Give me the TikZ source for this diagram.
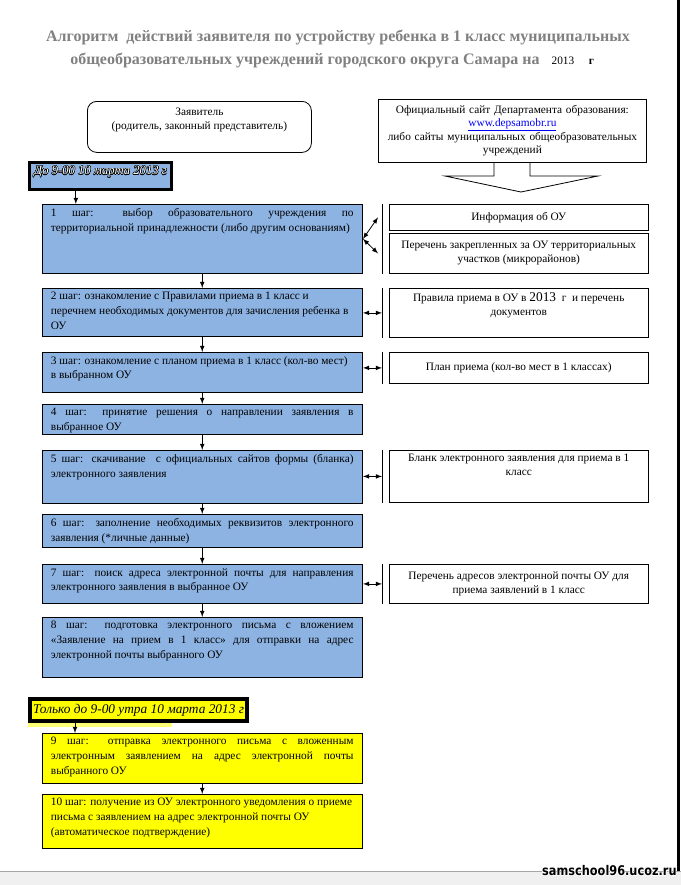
\documentclass[tikz,border=0pt]{standalone}
\usepackage{fontspec}
\setmainfont{Liberation Serif}
\newfontfamily\markfont[FakeStretch=0.85]{DejaVu Sans}
\usepackage[copies]{contour}
\contourlength{0.35pt}

\definecolor{stepblue}{RGB}{141,179,226}
\definecolor{stepyellow}{RGB}{255,255,0}
\definecolor{headgray}{RGB}{128,128,128}

\newcommand{\stepcell}[3][t]{\parbox[c][#2][#1]{227pt}{#3}}
\newcommand{\sidecell}[3][c]{\parbox[c][#2][#1]{186pt}{\centering #3}}
\newcommand{\fullline}[1]{\makebox[\linewidth][s]{#1}}

\tikzset{
    stepbox/.style={draw, fill=stepblue, anchor=north west, inner xsep=6.75pt, inner ysep=3pt, font=\fontsize{8.5}{11}\selectfont},
    lastbox/.style={stepbox, fill=stepyellow},
    sidebox/.style={draw, fill=white, anchor=north west, inner xsep=4pt, inner ysep=3pt, font=\fontsize{8.5}{10.5}\selectfont},
    datebox/.style={draw, line width=2.5pt, inner xsep=1pt, inner ysep=0pt, font=\fontsize{10}{12}\selectfont\itshape},
    flow/.style={->},
    link/.style={<->}
}

\begin{document}
\begin{tikzpicture}[x=0.75pt, y=-0.75pt, line width=0.6pt, >=latex]
                \useasboundingbox (0,0) rectangle (681,885);
                \node[font=\fontsize{12}{14}\selectfont\bfseries, text=headgray] (title1) at (338,37) {Алгоритм\ \ действий заявителя по устройству ребенка в 1 класс муниципальных};
                \node[anchor=west, inner xsep=0pt, font=\fontsize{12}{14}\selectfont\bfseries, text=headgray] (title2) at (70,60) {общеобразовательных учреждений городского округа Самара на\hspace{9pt}{\color{black}\fontsize{8.5}{10}\selectfont\mdseries 2013}\hspace{11pt}{\color{black}\fontsize{8.5}{10}\selectfont г}};
                \node[draw, rounded corners=7pt, anchor=north west, inner xsep=4pt, inner ysep=3pt, font=\fontsize{8.5}{10.5}\selectfont] (parent) at (87,101) {\parbox[c][32.25pt][t]{160pt}{\vspace*{2pt}\centering Заявитель\\ (родитель, законный представитель)}};
                \node[draw, anchor=north west, minimum height=47.25pt, text width=193pt, inner xsep=4pt, align=center, font=\fontsize{8.5}{9.5}\selectfont] (site) at (378,99) {Официальный сайт Департамента образования:\\ {\color{blue}\underline{www.depsamobr.ru}}\\ либо сайты муниципальных общеобразовательных\\ учреждений};
                \draw (494,162) -- (494,176) -- (445,176) -- (521,192) -- (598,176) -- (530,176) -- (530,162);
                \node[datebox, fill=stepblue, text=white, minimum width=106.5pt, minimum height=20.25pt, text height=6pt, text depth=8pt, font=\fontsize{9.5}{12}\selectfont\itshape] (due) at (100.5,176) {\contour{black}{До 9-00 10 марта 2013 г}};
                \node[stepbox] (s1) at (41.5,204) {\stepcell{45.75pt}{\fullline{1 шаг: выбор образовательного учреждения по}\\ \mbox{территориальной принадлежности (либо другим основаниям)}}};
                \node[stepbox] (s2) at (41.5,288) {\stepcell{30pt}{\mbox{2 шаг: ознакомление с Правилами приема в 1 класс и}\\ \mbox{перечнем необходимых документов для зачисления ребенка в}\\ ОУ}};
                \node[stepbox] (s3) at (41.5,352) {\stepcell{24pt}{\mbox{3 шаг: ознакомление с планом приема в 1 класс (кол-во мест)}\\ в выбранном ОУ}};
                \node[stepbox] (s4) at (41.5,404) {\stepcell{16.5pt}{\fullline{4 шаг: принятие решения о направлении заявления в}\\ выбранное ОУ}};
                \node[stepbox] (s5) at (41.5,450) {\stepcell{33.75pt}{\fullline{5 шаг: скачивание \ с официальных сайтов формы (бланка)}\\ электронного заявления}};
                \node[stepbox] (s6) at (41.5,514) {\stepcell{18.75pt}{\fullline{6 шаг: заполнение необходимых реквизитов электронного}\\ заявления (*личные данные)}};
                \node[stepbox] (s7) at (41.5,564) {\stepcell{23.25pt}{\fullline{7 шаг: поиск адреса электронной почты для направления}\\ электронного заявления в выбранное ОУ}};
                \node[stepbox] (s8) at (41.5,617) {\stepcell{39pt}{\fullline{8 шаг: подготовка электронного письма с вложением}\\ \fullline{«Заявление на прием в 1 класс» для отправки на адрес}\\ электронной почты выбранного ОУ}};
                \fill[stepyellow!55] (28,723) rectangle (172,727);
                \node[datebox, line width=3pt, fill=stepyellow, minimum width=162.75pt, minimum height=16.5pt] (late) at (138.5,710) {Только до 9-00 утра 10 марта 2013 г};
                \node[lastbox] (s9) at (41.5,733) {\stepcell{31.5pt}{\fullline{9 шаг: отправка электронного письма с вложенным}\\ \fullline{электронным заявлением на адрес электронной почты}\\ выбранного ОУ}};
                \node[lastbox] (s10) at (41.5,794) {\stepcell{34.5pt}{\mbox{10 шаг: получение из ОУ электронного уведомления о приеме}\\ \mbox{письма с заявлением на адрес электронной почты ОУ}\\ (автоматическое подтверждение)}};
                \node[sidebox] (info) at (389,204) {\sidecell{13.5pt}{Информация об ОУ}};
                \node[sidebox] (zone) at (389,233) {\sidecell{24pt}{Перечень закрепленных за ОУ территориальных\\ участков (микрорайонов)}};
                \node[sidebox] (rules) at (389,288) {\sidecell[t]{30.75pt}{Правила приема в ОУ в {\fontsize{10}{10}\selectfont 2013}\enspace г\enspace и перечень\\ документов}};
                \node[sidebox] (plan) at (389,352) {\sidecell{17.25pt}{План приема (кол-во мест в 1 классах)}};
                \node[sidebox] (blank) at (389,450) {\sidecell[t]{33pt}{Бланк электронного заявления для приема в 1\\ класс}};
                \node[sidebox] (mail) at (389,564) {\sidecell{23.25pt}{Перечень адресов электронной почты ОУ для\\ приема заявлений в 1 класс}};
                \foreach \a/\b in {info/zone, rules/rules, plan/plan, blank/blank, mail/mail}
                    {\draw ([xshift=-5.25pt]\a.north west) -- ([xshift=-5.25pt]\b.south west);}
                \foreach \a/\b in {s1/s2, s2/s3, s3/s4, s4/s5, s5/s6, s6/s7, s7/s8, s9/s10}
                    {\draw[flow] (\a) -- (\b);}
                \draw[flow] ([xshift=36pt]due.south west) -- ([xshift=36pt]due.south west |- s1.north);
                \draw[flow] ([xshift=35.25pt]late.south west) -- ([xshift=35.25pt]late.south west |- s9.north);
                \draw[link] (s1.east) -- ([xshift=-8.25pt]info.west);
                \draw[link] (s1.east) -- ([xshift=-8.25pt]zone.west);
                \foreach \s/\r in {s2/rules, s3/plan, s5/blank, s7/mail}
                    {\draw[link] (\s.east |- \r.west) -- ([xshift=-5.25pt]\r.west);}
                \fill[gray!12] (0,871) rectangle (681,885);
                \draw[gray!70] (0,871) -- (681,871);
                \draw[line width=2pt] (678.5,0) -- (678.5,871);
                \node[anchor=east, inner sep=0pt, font=\markfont\fontsize{10}{11}\selectfont\bfseries] (mark) at (677,871) {\contour{white}{samschool96.ucoz.ru}};
            \end{tikzpicture}
\end{document}
